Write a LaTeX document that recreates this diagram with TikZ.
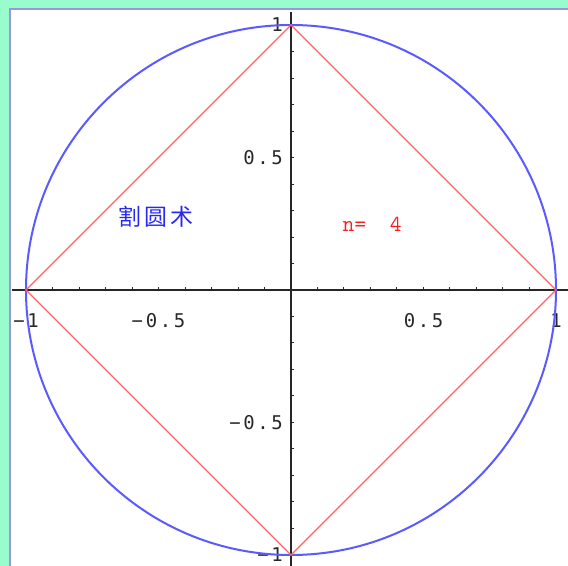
\documentclass[tikz,border=0pt]{standalone}
\usepackage{fontspec}
\usepackage{tikz}
\usetikzlibrary{positioning}
\newfontfamily\cjkfont[LetterSpace=12]{Noto Sans CJK SC}
\newfontfamily\tickfont[LetterSpace=14]{DejaVu Sans Mono}
\definecolor{bggreen}{RGB}{153,252,204}
\definecolor{edgepurple}{RGB}{150,150,225}
\definecolor{circblue}{RGB}{90,90,255}
\definecolor{polyred}{RGB}{255,100,100}
\definecolor{textred}{RGB}{255,30,30}
\definecolor{textblue}{RGB}{40,40,245}
\definecolor{tickgray}{RGB}{40,40,40}
\tikzstyle{ticklabel} = [font=\tickfont\fontsize{19}{19}\selectfont,
           text=tickgray, inner sep=0pt]
\tikzstyle{axis} = [line width=1.6bp, draw=black!85]
\tikzstyle{tick} = [line width=1bp, draw=black!85]
\tikzstyle{polygon} = [line width=1.4bp, draw=polyred]
\tikzstyle{circ} = [line width=2bp, draw=circblue]

\begin{document}
\begin{tikzpicture}[x=265bp, y=265bp]
\useasboundingbox (-291bp,-276bp) rectangle (277bp,290bp);
\fill[bggreen] (-291bp,-276bp) rectangle (277bp,290bp);
\fill[white] (-282bp,-276bp) rectangle (277bp,282bp);
\draw[edgepurple, line width=2bp] (-281bp,-276bp) -- (-281bp,281bp) -- (277bp,281bp);
% axes
\coordinate (xl) at (-279bp,0);
\coordinate (xr) at (277bp,0);
\coordinate (yb) at (0,-276bp);
\coordinate (yt) at (0,278bp);
\draw[axis] (xl) -- (xr);
\draw[axis] (yb) -- (yt);
\foreach \t in {-10,...,-1,1,2,...,10}
  {\draw[tick] (\t/10,0) -- ++(0,3bp);
   \draw[tick] (0,\t/10) -- ++(3bp,0);}
% tick labels
\node (xm1) [ticklabel] at (-1,-31bp) {−1};
\node (xmh) [ticklabel] at (-0.5,-31bp) {−0.5};
\node (xph) [ticklabel] at (0.5,-31bp) {0.5};
\node (xp1) [ticklabel] at (1,-31bp) {1};
\node (yp1) [ticklabel, anchor=east] at (-8bp,1) {1};
\node (yph) [ticklabel, anchor=east] at (-8bp,0.5) {0.5};
\node (ymh) [ticklabel, anchor=east] at (-8bp,-0.5) {−0.5};
\node (ym1) [ticklabel, anchor=east] at (-8bp,-1) {−1};
% circle and square
\draw[circ] (0,0) circle [radius=1];
\coordinate (v1) at (1,0);
\coordinate (v2) at (0,1);
\coordinate (v3) at (-1,0);
\coordinate (v4) at (0,-1);
\draw[polygon] (v1) -- (v2) -- (v3) -- (v4) -- cycle;
% texts
\node (title) [text=textblue, font=\cjkfont\fontsize{23}{23}\selectfont]
   at (-0.509,0.275) {割圆术};
\node (count) [text=textred, font=\ttfamily\fontsize{23}{23}\selectfont]
   at (0.306,0.249) {n=\ \ 4};
\end{tikzpicture}
\end{document}
